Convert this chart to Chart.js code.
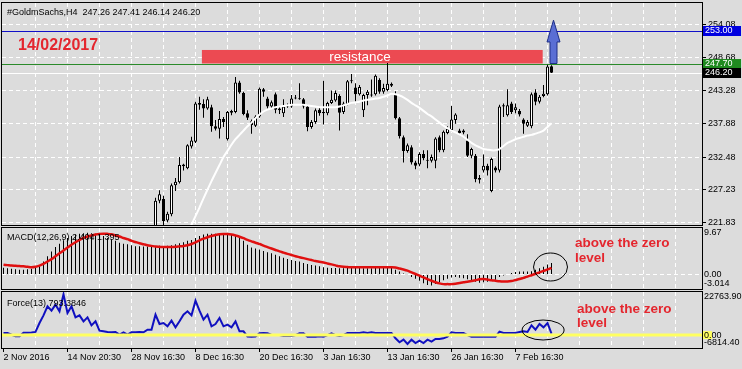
<!DOCTYPE html>
<html><head><meta charset="utf-8">
<script src="https://cdn.jsdelivr.net/npm/chart.js@4.4.1/dist/chart.umd.min.js"></script>
<style>
html,body{margin:0;padding:0;background:#dcdcdc;width:742px;height:369px;overflow:hidden}
canvas{position:absolute;left:0;top:0}
</style></head><body>
<canvas id="cMain" width="742" height="369"></canvas>
<canvas id="cMacd" width="742" height="369"></canvas>
<canvas id="cForce" width="742" height="369"></canvas>
<script>
// ---------- DATA (H4 bars, index 0 = 2 Nov 2016) ----------
const symbol = '#GoldmSachs,H4';
const opens = [180.5,180.0,179.4,179.2,178.5,182.0,184.5,185.0,185.8,188.0,196.8,201.5,207.2,208.4,211.5,210.0,214.9,213.2,210.5,211.0,208.9,210.1,212.0,211.3,212.8,212.1,213.5,213.1,214.6,214.2,216.0,215.6,216.5,214.1,214.5,213.3,214.2,218.1,
219.3,225.4,225.7,222.2,223.2,227.9,228.4,231.0,230.7,234.2,235.0,241.0,241.1,240.4,240.6,237.5,237.1,238.7,235.4,239.7,239.8,244.6,242.9,239.6,238.3,237.6,239.1,243.5,242.0,240.7,242.7,240.4,239.6,240.7,240.7,242.0,242.0,241.9,240.7,237.4,238.2,240.2,239.8,239.6,241.3,241.7,242.4,239.8,241.1,244.8,243.8,242.7,240.1,242.6,242.5,242.7,245.0,243.1,243.4,244.4,242.8,238.8,
235.7,233.5,234.1,231.6,231.3,233.0,232.0,231.9,231.9,235.7,233.6,236.4,236.9,238.5,236.8,236.5,235.2,232.7,232.7,229.1,230.3,231.1,227.0,230.8,230.3,240.7,239.3,241.2,240.1,240.0,238.6,237.6,237.5,243.0,241.5,242.4,242.7,247.26];
const highs = [181.2,181.0,180.1,180.3,179.4,184.9,185.4,186.5,186.8,197.5,199.6,207.8,209.5,212.1,212.4,215.8,216.1,214.0,212.3,211.8,210.7,212.6,212.9,213.4,213.5,213.9,214.2,215.0,215.3,216.4,216.9,217.3,217.0,215.0,215.2,214.4,218.5,219.6,
225.9,227.1,226.2,223.6,228.2,229.1,232.5,231.4,234.6,235.8,241.5,242.3,241.9,242.3,241.0,238.5,240.0,239.0,240.0,240.2,245.5,244.9,243.1,240.1,238.6,239.3,243.8,243.7,242.3,241.7,243.0,240.7,241.9,241.2,242.6,242.6,244.5,242.1,241.0,238.5,240.4,240.5,244.9,241.5,243.3,243.3,242.7,241.5,245.0,246.0,244.5,244.2,242.8,243.4,245.1,245.9,245.3,244.4,247.8,244.6,243.2,239.0,
236.0,234.7,234.4,231.9,233.3,233.6,233.6,232.9,235.7,236.0,236.8,237.5,240.8,239.6,237.1,237.0,236.2,234.0,233.0,229.6,232.9,231.4,232.4,231.0,241.0,241.2,243.5,241.5,241.2,240.3,238.8,238.5,243.0,243.5,242.6,244.2,247.5,247.41];
const lows = [179.6,178.8,178.6,177.9,177.6,181.6,183.9,184.2,184.9,187.5,195.9,201.0,205.8,207.6,208.0,209.6,212.6,209.8,210.1,208.0,208.5,209.5,210.8,210.9,211.7,211.5,212.8,212.6,213.9,213.8,215.2,215.2,213.6,213.2,212.8,212.9,214.0,217.5,
218.5,225.0,221.3,221.9,222.9,227.0,228.2,230.3,230.5,233.9,234.8,240.2,238.9,240.2,236.6,236.8,235.5,237.4,235.2,239.3,239.6,242.8,239.3,238.5,236.3,237.4,238.9,242.3,240.4,240.4,239.6,239.5,239.0,240.5,240.5,241.9,241.8,240.4,236.7,237.1,237.9,239.2,237.8,239.3,241.1,241.5,236.8,239.5,240.9,244.5,241.5,242.5,239.0,240.9,242.3,242.5,242.8,242.8,243.2,243.9,238.6,235.5,
231.6,233.2,231.3,230.5,231.0,232.0,230.7,231.6,230.7,233.3,233.3,236.2,236.7,237.9,236.2,236.2,232.5,232.3,228.4,228.2,230.0,229.5,226.8,230.0,230.0,239.0,239.1,239.5,239.6,239.1,236.3,237.4,237.2,240.9,241.2,242.2,242.5,246.14];
const closes = [180.0,179.4,179.2,178.5,178.2,184.5,185.0,185.8,186.0,196.8,199.2,207.2,208.4,211.5,209.0,214.9,213.2,210.5,211.6,208.9,210.1,212.0,211.3,212.8,212.1,213.5,213.1,214.6,214.2,216.0,215.6,216.9,214.1,214.5,213.3,214.0,218.1,219.0,
225.4,226.45,222.1,223.3,227.9,228.5,231.2,231.3,234.4,235.2,241.2,241.3,240.4,241.9,237.5,237.1,238.7,238.2,239.8,240.0,244.6,243.0,239.5,238.9,237.7,239.1,243.6,243.1,240.7,241.4,240.2,240.1,240.7,240.9,242.0,242.1,241.9,240.7,237.4,238.2,240.1,239.6,239.6,241.3,241.8,242.9,239.7,241.2,244.8,244.9,242.7,243.9,242.6,243.1,242.6,245.7,243.1,243.7,244.4,244.1,238.8,235.9,
233.5,234.4,231.6,231.1,233.0,232.3,231.9,232.5,235.5,233.6,236.6,237.1,238.6,239.4,236.4,236.8,232.7,233.8,228.9,228.8,231.1,230.3,232.2,230.3,240.7,240.9,240.9,239.8,240.6,239.4,237.9,238.2,242.7,241.5,242.3,242.8,247.2,246.20];
// white moving average on the price chart
const maValues = [null,null,null,null,null,null,null,null,null,null,null,null,null,null,null,null,null,null,null,null,null,null,null,null,null,null,null,null,null,null,null,null,null,null,null,null,null,null,
null,null,null,null,null,null,217.5,218.9,220.2,221.5,222.9,224.3,225.8,227.2,228.6,229.9,231.2,232.5,233.5,234.5,235.4,236.1,236.8,237.5,238.1,238.8,239.4,239.9,240.2,240.4,240.6,240.7,240.8,240.9,241.0,241.0,241.0,241.0,240.9,240.8,240.7,240.6,240.6,240.6,240.6,240.6,240.7,240.9,241.1,241.3,241.4,241.5,241.7,241.8,241.9,242.0,242.1,242.3,242.5,242.8,242.7,242.5,
242.2,241.8,241.3,240.9,240.5,240.0,239.5,239.1,238.6,238.1,237.6,237.2,236.8,236.5,236.2,235.8,235.3,234.8,234.4,234.1,233.8,233.7,233.6,233.6,233.8,234.3,234.8,235.1,235.4,235.6,235.8,236.0,236.1,236.3,236.5,236.8,237.4,238.0];
// MACD(12,26,9): main (histogram) and signal (red)
const macdMain = [1.4,1.3,1.2,1.1,1.0,1.0,1.1,1.2,1.5,1.9,2.7,3.8,4.8,5.7,6.4,7.1,7.6,8.0,8.3,8.5,8.6,8.7,8.6,8.5,8.3,8.0,7.6,7.3,7.0,6.6,6.4,6.3,6.1,5.9,5.9,5.8,5.8,5.8,
5.9,6.0,5.9,6.0,6.1,6.3,6.5,6.7,7.0,7.2,7.6,8.0,8.3,8.5,8.5,8.5,8.5,8.3,8.2,8.3,8.1,7.6,7.0,6.2,5.6,5.4,5.2,4.9,4.65,4.4,4.1,3.8,3.5,3.25,3.0,2.8,2.7,2.4,2.2,2.0,1.85,1.7,1.5,1.4,1.35,1.35,1.3,1.3,1.4,1.5,1.4,1.4,1.3,1.3,1.3,1.4,1.4,1.4,1.5,1.5,1.0,0.6,
0.2,-0.1,-0.5,-0.9,-1.3,-1.8,-2.2,-2.3,-2.0,-1.6,-1.2,-0.9,-0.6,-0.5,-0.7,-0.8,-1.0,-1.2,-1.5,-1.7,-1.6,-1.5,-1.2,-1.1,-0.5,-0.2,0.1,0.3,0.5,0.6,0.6,0.6,0.7,1.0,1.3,1.6,2.1,2.404];
const macdSignal = [2.05,1.95,1.85,1.8,1.75,1.7,1.6,1.5,1.6,1.85,2.2,2.7,3.2,3.8,4.4,5.0,5.6,6.2,6.7,7.2,7.6,7.9,8.1,8.3,8.45,8.5,8.45,8.35,8.1,7.9,7.6,7.35,7.0,6.75,6.5,6.3,6.1,5.95,
5.8,5.75,5.7,5.7,5.7,5.75,5.85,5.95,6.1,6.35,6.7,7.1,7.45,7.75,8.0,8.2,8.35,8.4,8.4,8.3,8.1,7.85,7.55,7.2,6.9,6.6,6.35,6.0,5.7,5.4,5.1,4.8,4.55,4.3,4.05,3.8,3.6,3.4,3.2,3.0,2.8,2.65,2.5,2.3,2.1,1.9,1.7,1.6,1.55,1.5,1.5,1.5,1.5,1.5,1.5,1.5,1.5,1.5,1.5,1.5,1.45,1.25,
1.05,0.8,0.45,0.1,-0.25,-0.6,-0.95,-1.3,-1.6,-1.85,-2.0,-2.0,-2.0,-1.9,-1.75,-1.6,-1.5,-1.35,-1.2,-1.0,-0.95,-1.05,-1.2,-1.3,-1.4,-1.45,-1.45,-1.35,-1.15,-0.95,-0.7,-0.45,-0.15,0.15,0.45,0.75,1.05,1.395];
// Force(13)
const forceValues = [1100,1050,200,-600,-620,1300,1280,1400,1700,6389,10437,15189,12901,16069,12549,21500,11669,15189,9381,10437,7269,9381,5157,7269,2341,1989,1637,1461,1637,229,1461,229,1461,1461,1637,1461,2869,2869,
10789,5861,6389,4629,7621,4101,7269,10789,12549,10437,18181,12901,8149,10789,4629,5861,9029,4629,5509,4101,7269,1989,1989,-750,-827,-800,933,1109,933,50,50,0,-475,-475,-480,0,933,950,-827,-840,-827,-651,-827,0,933,0,-475,0,1109,1120,1100,1109,1461,1109,1461,1109,1100,1109,1120,1109,-1707,-3819,
-2411,-4699,-2411,-4171,-2939,-4171,-2411,-3467,-2059,-2059,-1707,-827,1461,1109,1100,1109,0,-827,-830,-827,-820,-827,-830,-827,1813,1109,1100,1109,1120,1637,1989,1637,5157,2869,5861,4101,6389,793.3846];
// axis ticks / labels
const priceTicks = [221.83, 227.23, 232.48, 237.88, 243.28, 248.68, 254.08];
const macdAxisValues = [9.67, 0, -3.014];
const macdAxisText = ['9.67', '0.00', '-3.014'];
const forceAxisValues = [22763.9, 0, -6814.4];
const forceAxisText = ['22763.90', '0.00', '-6814.40'];
const dateIdx = [0, 16, 32, 48, 64, 80, 96, 112, 128];
const dateText = ['2 Nov 2016','14 Nov 20:30','28 Nov 16:30','8 Dec 16:30','20 Dec 16:30','3 Jan 16:30','13 Jan 16:30','26 Jan 16:30','7 Feb 16:30'];
// horizontal levels and annotations
const levelBlue = 253.00, levelGreen = 247.70, levelBid = 246.20;
const resistanceLow = 247.70, resistanceHigh = 249.90;
const dateNote = '14/02/2017';

// ---------- helpers ----------
const barIdx = opens.map((_, i) => i);
const gridIdx = []; for (let v = 0; v <= 168; v += 8) gridIdx.push(v);
const FONT = '"Liberation Sans", Arial, sans-serif';
const RED = '#e4262e';
const X_MIN = -0.375, X_MAX = 174.625;
const CLEAR = 'rgba(0,0,0,0)';

function xAxis(showLabels) {
  return {
    type: 'linear', min: X_MIN, max: X_MAX, offset: false, position: 'bottom',
    afterBuildTicks: s => { s.ticks = gridIdx.map(v => ({ value: v })); },
    afterFit: s => { s.height = showLabels ? 21 : 0; s.paddingLeft = 0; s.paddingRight = 0; s.paddingTop = 0; s.paddingBottom = 0; },
    grid: {
      offset: false,
      color: c => (c.tick && c.tick.value > 0) ? '#ffffff' : CLEAR,
      lineWidth: 1, drawTicks: showLabels, tickLength: 4, tickWidth: 1,
      tickColor: c => (c.tick && dateIdx.indexOf(c.tick.value) >= 0) ? '#000' : CLEAR,
      tickBorderDash: []
    },
    border: { display: false, dash: [4, 3] },
    ticks: {
      display: showLabels, autoSkip: false, maxRotation: 0, minRotation: 0, align: 'start', padding: 0,
      color: '#000', font: { family: FONT, size: 9 },
      callback: v => { const k = dateIdx.indexOf(v); return k >= 0 ? dateText[k] : ''; }
    }
  };
}
function frame(chart) {
  const a = chart.chartArea, ctx = chart.ctx;
  ctx.save(); ctx.strokeStyle = '#000'; ctx.lineWidth = 1;
  ctx.strokeRect(a.left - 0.5, a.top - 0.5, a.right - a.left + 1, a.bottom - a.top + 1);
  ctx.restore();
}
function text(ctx, s, x, y, font, color, align) {
  ctx.save(); ctx.font = font; ctx.fillStyle = color; ctx.textAlign = align || 'left'; ctx.textBaseline = 'alphabetic';
  ctx.fillText(s, x, y); ctx.restore();
}
function sideLabels(chart, vals, texts) {
  const a = chart.chartArea, ys = chart.scales.y, ctx = chart.ctx;
  ctx.save(); ctx.font = '9px ' + FONT; ctx.fillStyle = '#000'; ctx.textBaseline = 'middle'; ctx.textAlign = 'left';
  vals.forEach((v, k) => {
    let py = ys.getPixelForValue(v);
    py = Math.min(Math.max(py, a.top + 5), a.bottom - 5);
    ctx.fillText(texts[k], a.right + 2, py);
  });
  ctx.restore();
}
function ellipse(chart, idx, val, rx, ry) {
  const ctx = chart.ctx, px = chart.scales.x.getPixelForValue(idx), py = chart.scales.y.getPixelForValue(val);
  ctx.save(); ctx.strokeStyle = '#000'; ctx.lineWidth = 1; ctx.beginPath();
  ctx.ellipse(px, py, rx, ry, 0, 0, Math.PI * 2); ctx.stroke(); ctx.restore();
}
const baseOpts = {
  responsive: false, animation: false, devicePixelRatio: 1, events: [],
  plugins: { legend: { display: false }, tooltip: { enabled: false }, title: { display: false } }
};
Chart.defaults.font.family = FONT;

// ---------- MAIN PRICE PANEL ----------
const last = opens.length - 1;
const mainDecor = {
  id: 'mainDecor',
  beforeDatasetsDraw(chart) {
    const ctx = chart.ctx, a = chart.chartArea, xs = chart.scales.x, ys = chart.scales.y;
    // resistance zone
    const x1 = xs.getPixelForValue(49.6), x2 = xs.getPixelForValue(134.8);
    const y1 = ys.getPixelForValue(resistanceHigh), y2 = ys.getPixelForValue(resistanceLow);
    ctx.save(); ctx.fillStyle = '#ec4a52'; ctx.fillRect(x1, y1, x2 - x1, y2 - y1); ctx.restore();
    // level lines
    [[levelBlue, '#1010c8'], [levelGreen, '#2a8a2a'], [levelBid, '#ffffff']].forEach(([v, c]) => {
      const y = Math.round(ys.getPixelForValue(v)) + 0.5;
      ctx.save(); ctx.strokeStyle = c; ctx.lineWidth = 1; ctx.beginPath(); ctx.moveTo(a.left, y); ctx.lineTo(a.right, y); ctx.stroke(); ctx.restore();
    });
    text(ctx, 'resistance', xs.getPixelForValue(89.1), y2 - 2.5, '13.5px ' + FONT, '#ffffff', 'center');
  },
  afterDraw(chart) {
    const ctx = chart.ctx, a = chart.chartArea, xs = chart.scales.x, ys = chart.scales.y;
    // blue arrow
    const cx = xs.getPixelForValue(last + 0.5);
    const yb = ys.getPixelForValue(levelGreen), yh = ys.getPixelForValue(251.2), yt = ys.getPixelForValue(254.75);
    ctx.save(); ctx.fillStyle = '#5a6ed4'; ctx.strokeStyle = '#1f2f86'; ctx.lineWidth = 1;
    ctx.beginPath();
    ctx.moveTo(cx - 3.5, yb); ctx.lineTo(cx - 3.5, yh); ctx.lineTo(cx - 6.5, yh); ctx.lineTo(cx, yt);
    ctx.lineTo(cx + 6.5, yh); ctx.lineTo(cx + 3.5, yh); ctx.lineTo(cx + 3.5, yb); ctx.closePath();
    ctx.fill(); ctx.stroke(); ctx.restore();
    frame(chart);
    // price boxes on the axis
    [[levelBlue, '#0000e0'], [levelGreen, '#1f8a1f'], [levelBid, '#000000']].forEach(([v, c]) => {
      const y = ys.getPixelForValue(v);
      ctx.save(); ctx.fillStyle = c; ctx.fillRect(a.right + 1, Math.round(y) - 5, 38, 10);
      ctx.font = '9px ' + FONT; ctx.fillStyle = '#fff'; ctx.textBaseline = 'middle'; ctx.textAlign = 'left';
      ctx.fillText(v.toFixed(2), a.right + 3, Math.round(y)); ctx.restore();
    });
    text(ctx, symbol + '  ' + [opens[last], highs[last], lows[last], closes[last]].map(v => v.toFixed(2)).join(' '), 7, 15, '9px ' + FONT, '#000');
    text(ctx, dateNote, 18, 50, 'bold 16px ' + FONT, RED);
  }
};
new Chart(document.getElementById('cMain'), {
  type: 'bar',
  data: {
    labels: barIdx,
    datasets: [
      { type: 'line', data: maValues, borderColor: '#ffffff', borderWidth: 2, pointRadius: 0, tension: 0.2, clip: 0 },
      { type: 'bar', data: opens.map((o, i) => [o, closes[i]]), backgroundColor: opens.map((o, i) => closes[i] >= o ? '#ffffff' : '#000000'),
        borderColor: '#000', borderWidth: 1, borderSkipped: false, barThickness: 3, maxBarThickness: 3, grouped: false, inflateAmount: 0, minBarLength: 1, clip: 0 },
      { type: 'bar', data: lows.map((l, i) => [l, highs[i]]), backgroundColor: '#000', borderWidth: 0,
        barThickness: 1, maxBarThickness: 1, grouped: false, inflateAmount: 0, clip: 0 }
    ]
  },
  options: Object.assign({}, baseOpts, {
    layout: { padding: { left: 2, top: 3, right: 0, bottom: 144 } },
    scales: {
      x: xAxis(false),
      y: {
        type: 'linear', position: 'right', min: 221.46, max: 257.53, beginAtZero: false, bounds: 'data',
        afterBuildTicks: s => { s.ticks = priceTicks.map(v => ({ value: v })); },
        afterFit: s => { s.width = 40; s.paddingTop = 0; s.paddingBottom = 0; },
        grid: { color: '#ffffff', lineWidth: 1, drawTicks: true, tickLength: 4, tickColor: '#000', tickBorderDash: [] },
        border: { display: false, dash: [4, 3] },
        ticks: { color: '#000', padding: 2, font: { family: FONT, size: 9 }, callback: v => v.toFixed(2) }
      }
    }
  }),
  plugins: [mainDecor]
});

// ---------- MACD PANEL ----------
const macdDecor = {
  id: 'macdDecor',
  afterDraw(chart) {
    const ctx = chart.ctx;
    frame(chart);
    sideLabels(chart, macdAxisValues, macdAxisText);
    text(ctx, 'MACD(12,26,9) ' + macdMain[last].toFixed(3) + ' ' + macdSignal[last].toFixed(3), 7, 240, '9px ' + FONT, '#000');
    ellipse(chart, 136.75, 1.56, 17, 14);
    text(ctx, 'above the zero', 575, 247, 'bold 13.5px ' + FONT, RED);
    text(ctx, 'level', 575, 262, 'bold 13.5px ' + FONT, RED);
  }
};
new Chart(document.getElementById('cMacd'), {
  type: 'bar',
  data: {
    labels: barIdx,
    datasets: [
      { type: 'line', data: macdSignal, borderColor: '#e01010', borderWidth: 2.5, pointRadius: 0, tension: 0.3, clip: 0 },
      { type: 'bar', data: macdMain, backgroundColor: '#000', borderWidth: 0, barThickness: 1, maxBarThickness: 1, grouped: false, inflateAmount: 0, clip: 0 }
    ]
  },
  options: Object.assign({}, baseOpts, {
    layout: { padding: { left: 2, top: 228, right: 0, bottom: 80 } },
    scales: {
      x: xAxis(false),
      y: {
        type: 'linear', position: 'right', min: -3.014, max: 9.67, beginAtZero: false, bounds: 'data',
        afterBuildTicks: s => { s.ticks = [{ value: 0 }]; },
        afterFit: s => { s.width = 40; s.paddingTop = 0; s.paddingBottom = 0; },
        grid: { color: '#ffffff', lineWidth: 1, drawTicks: false },
        border: { display: false, dash: [4, 3] },
        ticks: { display: false }
      }
    }
  }),
  plugins: [macdDecor]
});

// ---------- FORCE PANEL ----------
const forceDecor = {
  id: 'forceDecor',
  afterDatasetsDraw(chart) {
    const ctx = chart.ctx, a = chart.chartArea, y = chart.scales.y.getPixelForValue(0);
    ctx.save(); ctx.strokeStyle = '#ffff60'; ctx.lineWidth = 3; ctx.beginPath(); ctx.moveTo(a.left, y); ctx.lineTo(a.right, y); ctx.stroke(); ctx.restore();
  },
  afterDraw(chart) {
    const ctx = chart.ctx, a = chart.chartArea, y = chart.scales.y.getPixelForValue(0);
    ctx.save(); ctx.fillStyle = '#ffff60'; ctx.fillRect(a.right, y - 4, 10, 8); ctx.restore();
    frame(chart);
    sideLabels(chart, forceAxisValues, forceAxisText);
    text(ctx, 'Force(13) ' + forceValues[last].toFixed(4), 7, 306, '9px ' + FONT, '#000');
    ellipse(chart, 134.9, 2690, 21, 10);
    text(ctx, 'above the zero', 577, 313, 'bold 13.5px ' + FONT, RED);
    text(ctx, 'level', 577, 327, 'bold 13.5px ' + FONT, RED);
  }
};
new Chart(document.getElementById('cForce'), {
  type: 'line',
  data: {
    labels: barIdx,
    datasets: [
      { data: forceValues, borderColor: '#1010c0', borderWidth: 2, pointRadius: 0, tension: 0, clip: 0 }
    ]
  },
  options: Object.assign({}, baseOpts, {
    layout: { padding: { left: 2, top: 292, right: 0, bottom: 0 } },
    scales: {
      x: xAxis(true),
      y: {
        type: 'linear', position: 'right', min: -6814.4, max: 22763.9, beginAtZero: false, bounds: 'data',
        afterFit: s => { s.width = 40; s.paddingTop = 0; s.paddingBottom = 0; },
        grid: { display: false },
        border: { display: false },
        ticks: { display: false }
      }
    }
  }),
  plugins: [forceDecor]
});
</script>
</body></html>
